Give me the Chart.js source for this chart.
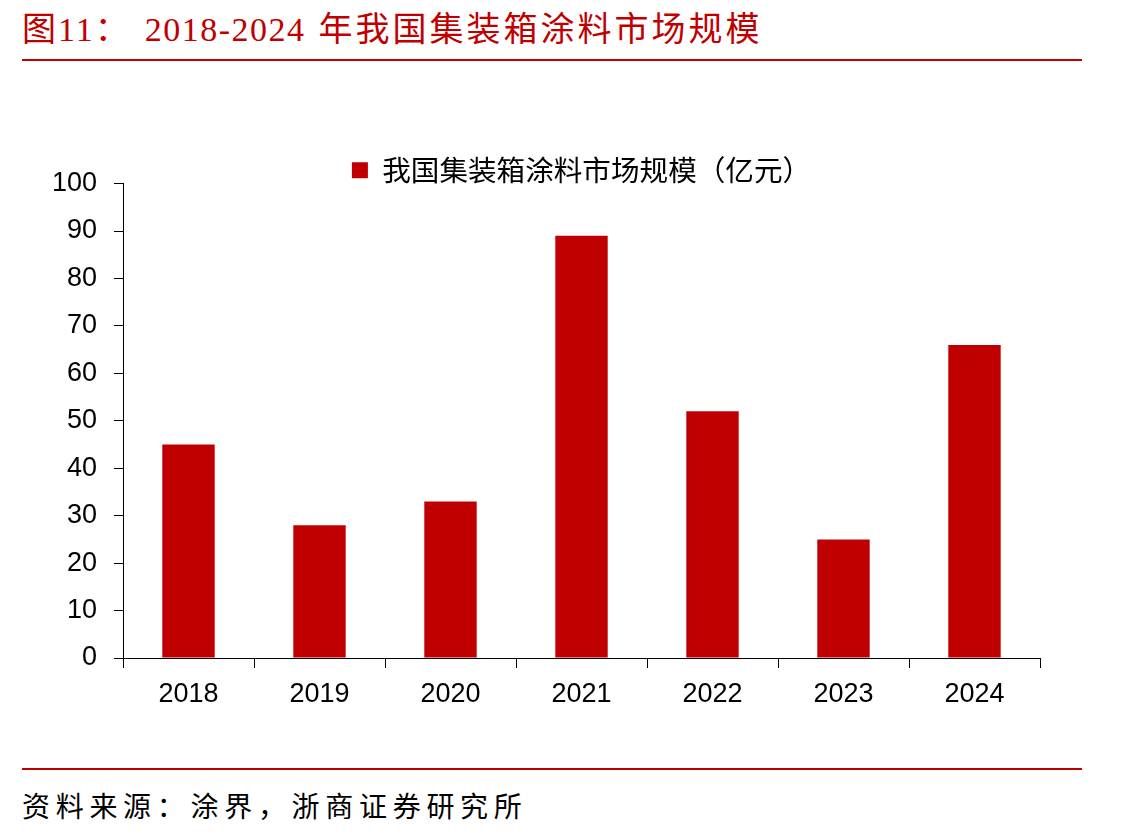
<!DOCTYPE html>
<html>
<head>
<meta charset="utf-8">
<script src="https://cdn.jsdelivr.net/npm/chart.js@4"></script>
<style>
  body { margin: 0; background: #fff; width: 1141px; height: 838px; position: relative; overflow: hidden; }
  .title { position: absolute; left: 22px; top: 2px; color: #c00000; font-family: "Liberation Serif", "Noto Sans CJK SC", serif; font-size: 34px; white-space: nowrap; }
  .title .a { letter-spacing: 2px; }
  .title .b { letter-spacing: 1.5px; margin-left: 14px; }
  .title .c { letter-spacing: 3px; margin-left: 13px; }
  .rule { position: absolute; left: 22px; width: 1060px; height: 2px; background: #c00000; }
  .source { position: absolute; left: 22px; top: 785px; color: #000; font-family: "Liberation Serif", "Noto Sans CJK SC", serif; font-size: 28px; letter-spacing: 5.7px; white-space: nowrap; }
  #wrap { position: absolute; left: 0; top: 70px; width: 1141px; height: 680px; }
</style>
</head>
<body>
<div class="title"><span class="a">图11：</span><span class="b">2018-2024</span><span class="c">年我国集装箱涂料市场规模</span></div>
<div class="rule" style="top:59px"></div>
<div id="wrap"><canvas id="grafico"></canvas></div>
<div class="rule" style="top:768px"></div>
<div class="source">资料来源：涂界，浙商证券研究所</div>
<script>
// Datos del gráfico
var years = ['2018', '2019', '2020', '2021', '2022', '2023', '2024'];
var marketSize = [45, 28, 33, 89, 52, 25, 66];
var seriesName = '我国集装箱涂料市场规模（亿元）';
var yTicks = [0, 10, 20, 30, 40, 50, 60, 70, 80, 90, 100];

document.addEventListener('DOMContentLoaded', function() {
    var ctx = document.getElementById('grafico').getContext('2d');
    var font = { family: '"Liberation Sans", Arial, "Noto Sans CJK SC", sans-serif', size: 27 };

    // Bajar un poco la leyenda hacia el área del gráfico
    var legendShift = {
        id: 'legendShift',
        afterLayout: function(chart) {
            chart.legend.top += 11;
            chart.legend.bottom += 11;
        }
    };

    new Chart(ctx, {
        type: 'bar',
        data: {
            labels: years,
            datasets: [{
                label: seriesName,
                data: marketSize,
                backgroundColor: '#c00000',
                borderWidth: 0,
                barPercentage: 0.4,
                categoryPercentage: 1
            }]
        },
        options: {
            responsive: true,
            maintainAspectRatio: false,
            animation: false,
            layout: { padding: { top: 75, right: 101, bottom: 0, left: 0 } },
            plugins: {
                tooltip: { enabled: false },
                legend: {
                    position: 'top',
                    fullSize: false,
                    labels: {
                        color: '#000',
                        font: { family: '"Noto Sans CJK SC", sans-serif', size: 28.6, lineHeight: 0.8 },
                        boxWidth: 16,
                        boxHeight: 16,
                        padding: 0
                    }
                }
            },
            scales: {
                x: {
                    offset: true,
                    grid: { offset: true, drawOnChartArea: false, drawTicks: true, tickLength: 10, color: '#000' },
                    border: { color: '#000', width: 1 },
                    ticks: { color: '#000', font: font, padding: 10 },
                    afterFit: function(scale) { scale.height = 92; }
                },
                y: {
                    min: 0,
                    max: 100,
                    afterBuildTicks: function(scale) { scale.ticks = yTicks.map(function(v) { return { value: v }; }); },
                    grid: { drawOnChartArea: false, drawTicks: true, tickLength: 9, color: '#000' },
                    border: { color: '#000', width: 1 },
                    ticks: { color: '#000', font: font, padding: 17 },
                    afterFit: function(scale) { scale.width = 123; }
                }
            }
        },
        plugins: [legendShift]
    });
});
</script>
</body>
</html>
